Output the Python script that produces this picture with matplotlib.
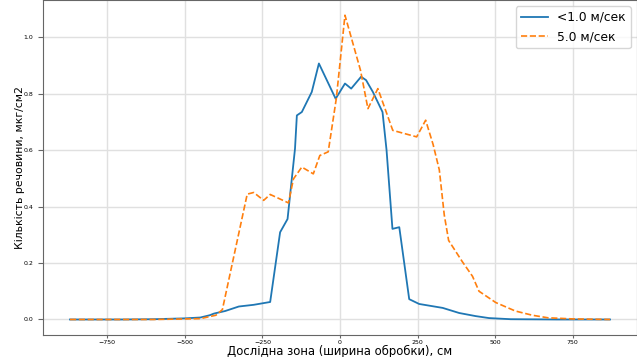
import matplotlib
matplotlib.use("Agg")
import matplotlib.pyplot as plt

# <1.0 m/s series
x_low = [-870, -700, -600, -500, -450, -420, -406, -370, -326, -278, -225, -193, -169,
         -145, -139, -123, -91, -68, -14, 16, 36, 68, 84, 106, 137, 150, 169, 191, 223,
         255, 331, 384, 437, 480, 550, 700, 870]
y_low = [0.0, 0.0, 0.001, 0.004, 0.007, 0.015, 0.021, 0.030, 0.046, 0.052, 0.062, 0.309, 0.356,
         0.605, 0.723, 0.735, 0.806, 0.907, 0.782, 0.836, 0.818, 0.860, 0.848, 0.806, 0.735, 0.60,
         0.321, 0.327, 0.072, 0.055, 0.041, 0.023, 0.012, 0.005, 0.001, 0.0, 0.0]

# 5.0 m/s series
x_high = [-870, -600, -450, -400, -379, -299, -278, -246, -225, -166, -150, -123, -86, -65,
          -38, -12, 16, 66, 90, 122, 170, 247, 276, 300, 320, 336, 350, 394, 427, 448, 475,
          502, 565, 620, 670, 750, 870]
y_high = [0.0, 0.0, 0.003, 0.015, 0.035, 0.444, 0.450, 0.422, 0.443, 0.413, 0.498, 0.540, 0.516,
          0.581, 0.594, 0.782, 1.078, 0.883, 0.747, 0.818, 0.670, 0.647, 0.706, 0.620, 0.530,
          0.370, 0.280, 0.205, 0.153, 0.100, 0.080, 0.060, 0.030, 0.015, 0.006, 0.002, 0.0]

labels = ["<1.0 м/сек", "5.0 м/сек"]
xlabel = "Дослідна зона (ширина обробки), см"
ylabel = "Кількість речовини, мкг/см2"
xticks = [-750, -500, -250, 0, 250, 500, 750]
yticks = [0.0, 0.2, 0.4, 0.6, 0.8, 1.0]

plt.rcParams['font.family'] = ['DejaVu Sans']
fig = plt.figure(figsize=(6.37, 3.57), dpi=100)
ax = fig.add_axes([43/637, 22.3/357, 594/637, 334.7/357])

ax.plot(x_low, y_low, color='#1f77b4', lw=1.3, label=labels[0])
ax.plot(x_high, y_high, color='#ff7f0e', lw=1.2, ls='--', label=labels[1])

ax.set_xticks(xticks)
ax.set_yticks(yticks)
ax.tick_params(axis='both', labelsize=4.5, color='0.4')
ax.tick_params(axis='x', length=2.5, pad=1.2)
ax.tick_params(axis='y', length=3.5, pad=3.5)
ax.grid(True, color='0.88', lw=1)
for s in ax.spines.values():
    s.set_color('0.4')

ax.set_xlabel(xlabel, fontsize=8.4, labelpad=0.2)
ax.set_ylabel(ylabel, fontsize=7.8, labelpad=-1)

ax.legend(loc='upper right', fontsize=8.8, handlelength=2.2, frameon=True,
          borderaxespad=0.5)

fig.savefig("out.png", dpi=100)
